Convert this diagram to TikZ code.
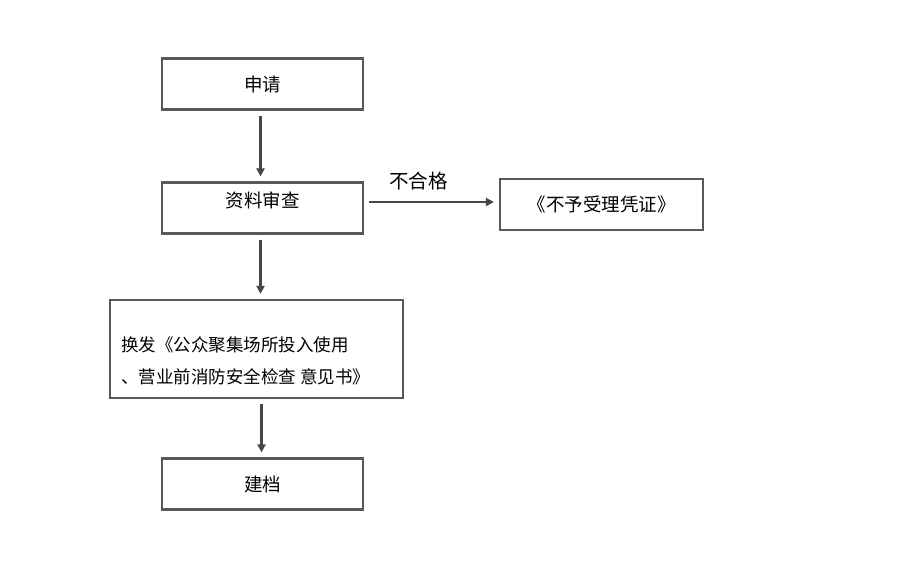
\documentclass[tikz,border=0pt]{standalone}
\usepackage{fontspec}
\newfontfamily\cjk{Noto Sans CJK SC}
\usetikzlibrary{arrows.meta}
\tikzset{
  box/.style={draw=black!65, line width=2.2pt, minimum width=201pt, minimum height=51pt, inner sep=0pt, font=\cjk\fontsize{18.5}{22}\selectfont},
  flow/.style={draw=black!72, line width=2.2pt, -{Triangle[length=8pt,width=8pt]}, shorten <=5pt, shorten >=5pt}
}
\begin{document}
\begin{tikzpicture}[x=1pt,y=-1pt]
      \useasboundingbox (0,0) rectangle (905,587);
      \node[box] (apply) at (262.5,84) {申请};
      \node[box, text depth=16pt] (review) at (262.5,208) {资料审查};
      \node[box, minimum width=203pt] (reject) at (601.5,204.5) {《不予受理凭证》};
      \node[box, minimum width=293pt, minimum height=98pt] (issue) at (256.5,349) {};
      \node[anchor=west, align=left, inner sep=0pt, font=\cjk\fontsize{17.5}{32}\selectfont] (issuetxt) at (121,361)
        {换发《公众聚集场所投入使用\\、营业前消防安全检查 意见书》};
      \node[box] (file) at (262.5,484) {建档};
      \begin{scope}
        \draw[flow] ([xshift=-2pt]apply.south) to ([xshift=-2pt]review.north);
        \draw[flow] ([xshift=-2pt]review.south) to ([xshift=-2pt]review.south |- issue.north);
        \draw[flow] ([xshift=-1pt]file.north |- issue.south) to ([xshift=-1pt]file.north);
        \draw[flow] ([yshift=6pt]review.east) to node[above=7pt, xshift=-13pt, font=\cjk\fontsize{19.5}{22}\selectfont] (fail) {不合格} ([yshift=6pt]review.east -| reject.west);
      \end{scope}
    \end{tikzpicture}
\end{document}
